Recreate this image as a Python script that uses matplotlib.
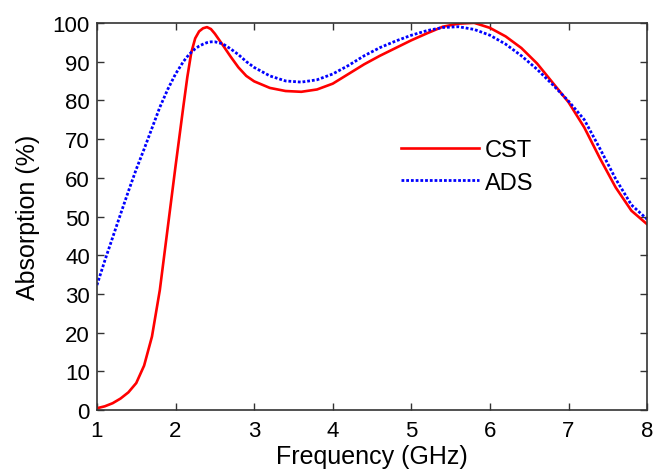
import matplotlib
matplotlib.use('Agg')
import matplotlib.pyplot as plt

plt.rcParams['font.family'] = ['Liberation Sans', 'DejaVu Sans']

# frequency points (GHz) and absorption (%)
freq = [1.0, 1.1, 1.2, 1.3, 1.4, 1.5, 1.6, 1.7, 1.8, 1.9, 2.0, 2.1, 2.15, 2.2, 2.25,
        2.3, 2.35, 2.4, 2.45, 2.5, 2.6, 2.7, 2.8, 2.9, 3.0, 3.2, 3.4, 3.6, 3.8, 4.0,
        4.2, 4.4, 4.6, 4.8, 5.0, 5.2, 5.4, 5.6, 5.8, 6.0, 6.2, 6.4, 6.6, 6.8, 7.0,
        7.2, 7.4, 7.6, 7.8, 8.0]
cst = [0.5, 1.0, 1.8, 3.0, 4.6, 7.0, 11.5, 19.0, 31.0, 47.0, 63.0, 78.5, 86.0, 92.3, 96.0,
       97.8, 98.6, 98.9, 98.4, 97.2, 94.3, 91.3, 88.5, 86.3, 84.9, 83.2, 82.4, 82.2, 82.8, 84.3,
       86.8, 89.3, 91.5, 93.5, 95.5, 97.3, 99.0, 99.8, 100.0, 98.7, 96.5, 93.5, 89.5, 84.5, 79.5,
       73.0, 65.0, 57.5, 51.5, 48.0]
ads = [32.3, 38.6, 44.6, 50.6, 56.5, 62.2, 67.4, 72.8, 78.2, 82.8, 86.8, 90.0, 91.3, 92.4, 93.3,
       94.0, 94.5, 94.9, 95.1, 95.1, 94.6, 93.3, 91.8, 90.0, 88.5, 86.3, 85.0, 84.7, 85.3, 86.8,
       89.0, 91.5, 93.6, 95.3, 96.8, 98.0, 98.8, 99.0, 98.3, 96.8, 94.5, 91.5, 88.0, 84.0, 79.8,
       75.0, 67.5, 59.7, 53.0, 49.3]

fig = plt.figure(figsize=(6.55, 4.77), dpi=100)
ax = fig.add_axes([0.148, 0.138, 0.840, 0.812])

ax.plot(freq, cst, color='#ff0000', lw=1.9, label='CST')
ax.plot(freq, ads, color='#0000ff', lw=2.0, ls=(0, (1.0, 0.7)), label='ADS')

ax.set_xlim(1, 8)
ax.set_ylim(0, 100)
ax.set_xticks(range(1, 9))
ax.set_yticks(range(0, 101, 10))
ax.tick_params(direction='in', length=5, width=1, top=True, right=True,
               labelsize=16, color='#333333')
ax.tick_params(axis='x', pad=7)
ax.tick_params(axis='y', pad=5)
for s in ax.spines.values():
    s.set_color('#333333')
    s.set_linewidth(1.2)

ax.set_xlabel('Frequency (GHz)', fontsize=18, labelpad=2)
ax.set_ylabel('Absorption (%)', fontsize=18, labelpad=9)

ax.legend(loc='upper left', bbox_to_anchor=(0.553, 0.70), frameon=False, fontsize=17,
          handlelength=3.3, handletextpad=0.25, labelspacing=0.45,
          borderpad=0, borderaxespad=0)

fig.savefig('out.png', dpi=100)
